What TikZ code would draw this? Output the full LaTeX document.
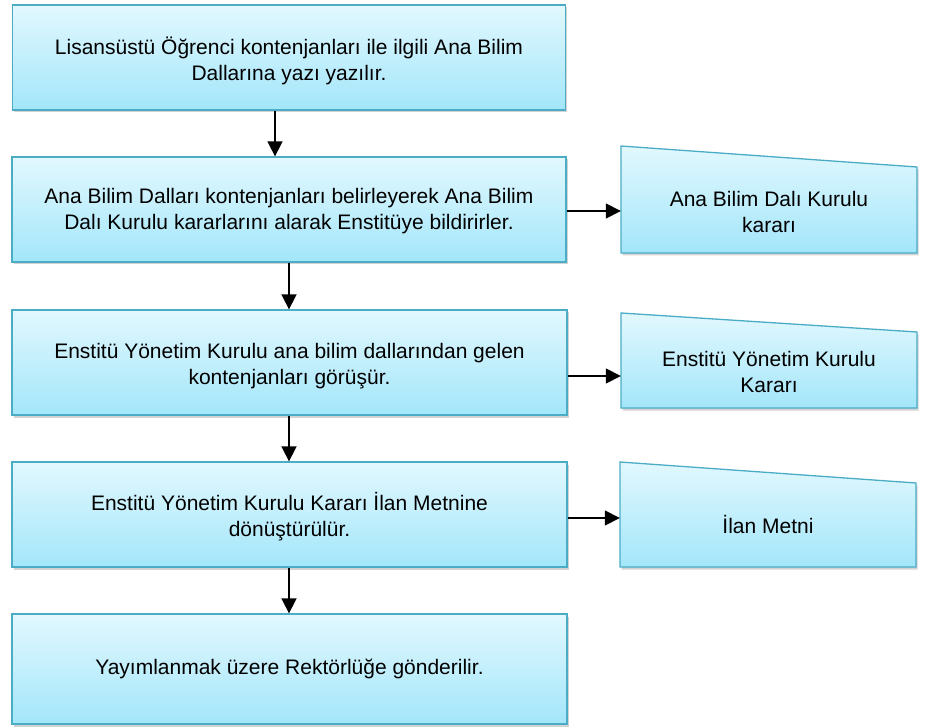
\documentclass[tikz,border=0pt]{standalone}
\usepackage{fontspec}
\setmainfont{Liberation Sans}
\usetikzlibrary{arrows.meta,shadows}
\definecolor{bordc}{HTML}{4BACC6}
\definecolor{topc}{HTML}{E2F8FE}
\definecolor{botc}{HTML}{A3E6FA}
\tikzset{
  stepbox/.style={draw=bordc, line width=1.3pt, top color=topc, bottom color=botc,
    drop shadow={shadow xshift=1.5pt, shadow yshift=-2.5pt, opacity=0.35, fill=gray},
    inner sep=0pt},
  manin/.style={draw=bordc, line width=1.3pt, top color=topc, bottom color=botc,
    drop shadow={shadow xshift=1.5pt, shadow yshift=-2.5pt, opacity=0.35, fill=gray}},
  lbl/.style={align=center, font=\fontsize{21}{26}\selectfont, inner sep=0pt},
  arr/.style={-{Triangle[length=15pt,width=15pt]}, line width=1.6pt, black}
}
\begin{document}
\begin{tikzpicture}[x=1pt,y=-1pt]
\useasboundingbox (0,0) rectangle (932,727);
% main boxes
\node[stepbox, minimum width=553pt, minimum height=105pt] (b1) at (289,57.5) {};
\node[lbl] (l1) at (289,60.5) {Lisansüstü Öğrenci kontenjanları ile ilgili Ana Bilim\\Dallarına yazı yazılır.};
\node[stepbox, minimum width=554pt, minimum height=105pt] (b2) at (289,209.5) {};
\node[lbl] (l2) at (289,211) {Ana Bilim Dalları kontenjanları belirleyerek Ana Bilim\\Dalı Kurulu kararlarını alarak Enstitüye bildirirler.};
\node[stepbox, minimum width=555pt, minimum height=105pt] (b3) at (289.5,362.5) {};
\node[lbl] (l3) at (289.5,366) {Enstitü Yönetim Kurulu ana bilim dallarından gelen\\kontenjanları görüşür.};
\node[stepbox, minimum width=555pt, minimum height=105pt] (b4) at (289.5,514.5) {};
\node[lbl] (l4) at (289.5,517) {Enstitü Yönetim Kurulu Kararı İlan Metnine\\dönüştürülür.};
\node[stepbox, minimum width=555pt, minimum height=110pt] (b5) at (289.5,669) {};
\node[lbl] (l5) at (289.5,669) {Yayımlanmak üzere Rektörlüğe gönderilir.};
% manual input shapes
\path[manin] (621,146) -- (917,167) -- (917,253) -- (621,253) -- cycle;
\node[minimum width=296pt, minimum height=107pt, inner sep=0pt] (r1) at (769,199.5) {};
\node[lbl] (t1) at (769,212) {Ana Bilim Dalı Kurulu\\kararı};
\path[manin] (621,313) -- (917,332) -- (917,408) -- (621,408) -- cycle;
\node[minimum width=296pt, minimum height=95pt, inner sep=0pt] (r2) at (769,360.5) {};
\node[lbl] (t2) at (769,372) {Enstitü Yönetim Kurulu\\Kararı};
\path[manin] (620,462) -- (916,483) -- (916,567) -- (620,567) -- cycle;
\node[minimum width=296pt, minimum height=105pt, inner sep=0pt] (r3) at (768,514.5) {};
\node[lbl] (t3) at (768,524) {İlan Metni};
% vertical arrows
\draw[arr] (b1.south -| 275,0) -- (b2.north -| 275,0);
\draw[arr] (b2.south -| 289,0) -- (b3.north -| 289,0);
\draw[arr] (b3.south -| 289,0) -- (b4.north -| 289,0);
\draw[arr] (b4.south -| 289,0) -- (b5.north -| 289,0);
% horizontal arrows
\draw[arr] ([yshift=-1.5pt]b2.east) -- ([yshift=-1.5pt]b2.east -| r1.west);
\draw[arr] ([yshift=-13.5pt]b3.east) -- ([yshift=-13.5pt]b3.east -| r2.west);
\draw[arr] ([yshift=-3.5pt]b4.east) -- ([yshift=-3.5pt]b4.east -| r3.west);
\end{tikzpicture}
\end{document}
